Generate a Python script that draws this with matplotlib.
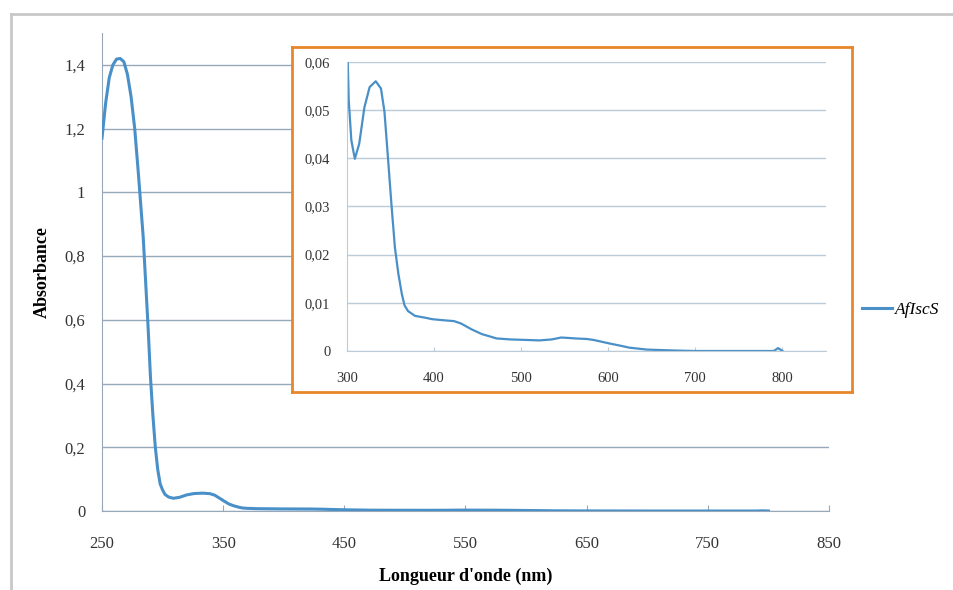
import matplotlib
matplotlib.use("Agg")
import matplotlib.pyplot as plt
from matplotlib.lines import Line2D
from matplotlib.ticker import FuncFormatter

# spectre UV-visible de AfIscS
longueur_onde = [250, 253, 256, 259, 262, 265, 268, 271, 274, 277, 280, 282, 284, 286,
                 288, 290, 292, 294, 296, 298, 300, 302, 305, 309, 314, 320, 326, 333,
                 339, 343, 347, 351, 355, 359, 363, 366, 370, 378, 390, 398, 410, 423,
                 431, 443, 455, 472, 488, 505, 521, 535, 546, 555, 563, 575, 583, 593,
                 603, 614, 624, 634, 644, 660, 677, 700, 750, 790, 795, 800]
absorbance = [1.17, 1.28, 1.36, 1.40, 1.418, 1.42, 1.41, 1.37, 1.30, 1.20, 1.06, 0.96,
              0.86, 0.72, 0.58, 0.42, 0.30, 0.20, 0.13, 0.085, 0.066, 0.052, 0.0437,
              0.0399, 0.043, 0.0506, 0.0548, 0.056, 0.0545, 0.0497, 0.0402, 0.0305,
              0.0215, 0.016, 0.0118, 0.0095, 0.0083, 0.0073, 0.0069, 0.0066, 0.0064,
              0.0062, 0.0057, 0.0045, 0.0035, 0.0026, 0.0024, 0.0023, 0.0022, 0.0024,
              0.0028, 0.0027, 0.0026, 0.0025, 0.0023, 0.0019, 0.0015, 0.0011, 0.0007,
              0.0005, 0.0003, 0.0002, 0.0001, 0.0, 0.0, 0.0, 0.0006, 0.0]

ticks_x = [250, 350, 450, 550, 650, 750, 850]
ticks_y = [0, 0.2, 0.4, 0.6, 0.8, 1.0, 1.2, 1.4]
ticks_x_encart = [300, 400, 500, 600, 700, 800]
ticks_y_encart = [0, 0.01, 0.02, 0.03, 0.04, 0.05, 0.06]

bleu = "#4A90C8"
grille = "#97A8B8"
grille_encart = "#BCCBD8"
orange = "#E8862A"

plt.rcParams['font.family'] = ['Liberation Serif', 'DejaVu Serif']


def virgule(v, pos):
    s = ("%.2f" % v).rstrip("0").rstrip(".")
    return s.replace(".", ",")


fig = plt.figure(figsize=(9.54, 5.90), dpi=100)

# cadre gris autour du graphique
fig.add_artist(Line2D([11 / 954, 11 / 954], [0, 1 - 14 / 590], color="#C8C8C8", lw=2))
fig.add_artist(Line2D([11 / 954, 1], [1 - 14 / 590, 1 - 14 / 590], color="#C8C8C8", lw=2))

ax = fig.add_axes([102 / 954, 1 - 511 / 590, 727 / 954, 478 / 590])
ax.plot(longueur_onde, absorbance, color=bleu, lw=2.2, label="AfIscS", zorder=3)
ax.set_xlim(250, 850)
ax.set_ylim(0, 1.5)
ax.set_xticks(ticks_x)
ax.set_yticks(ticks_y)
ax.yaxis.set_major_formatter(FuncFormatter(virgule))
ax.grid(axis="y", color=grille, lw=1)
ax.set_axisbelow(True)
for s in ["top", "right"]:
    ax.spines[s].set_visible(False)
ax.spines["left"].set_color(grille)
ax.spines["bottom"].set_color(grille)
ax.tick_params(axis="y", length=0, labelsize=12, pad=12, colors="#333333")
ax.tick_params(axis="x", length=4, direction="in", color=grille, labelsize=12,
               pad=18, labelcolor="#333333")
ax.set_xlabel("Longueur d'onde (nm)", fontsize=13, fontweight="bold", labelpad=11)
ax.set_ylabel("Absorbance", fontsize=13, fontweight="bold", labelpad=10)
ax.legend(loc="center left", bbox_to_anchor=(1.046, 0.42), frameon=False,
          prop={"style": "italic", "size": 12.5}, handlelength=1.7, handletextpad=0.15,
          borderpad=0, borderaxespad=0)

# cadre orange de l'encart
cadre = fig.add_axes([292 / 954, 1 - 392 / 590, 560 / 954, 345 / 590])
cadre.set_xticks([])
cadre.set_yticks([])
for s in cadre.spines.values():
    s.set_color(orange)
    s.set_linewidth(2)
cadre.set_facecolor("white")

ins = fig.add_axes([347 / 954, 1 - 351 / 590, 479 / 954, 289 / 590])
ins.patch.set_alpha(0)
ins.plot(longueur_onde, absorbance, color=bleu, lw=1.6)
ins.set_xlim(300, 850)
ins.set_ylim(0, 0.06)
ins.set_xticks(ticks_x_encart)
ins.set_yticks(ticks_y_encart)
ins.yaxis.set_major_formatter(FuncFormatter(virgule))
ins.grid(axis="y", color=grille_encart, lw=1)
ins.set_axisbelow(True)
for s in ["top", "right"]:
    ins.spines[s].set_visible(False)
ins.spines["left"].set_color(grille_encart)
ins.spines["bottom"].set_color(grille_encart)
ins.tick_params(axis="y", length=0, labelsize=10.5, pad=12, colors="#333333")
ins.tick_params(axis="x", length=3, direction="in", color=grille_encart, labelsize=10.5,
                pad=15, labelcolor="#333333")

fig.savefig("out.png", dpi=100)
